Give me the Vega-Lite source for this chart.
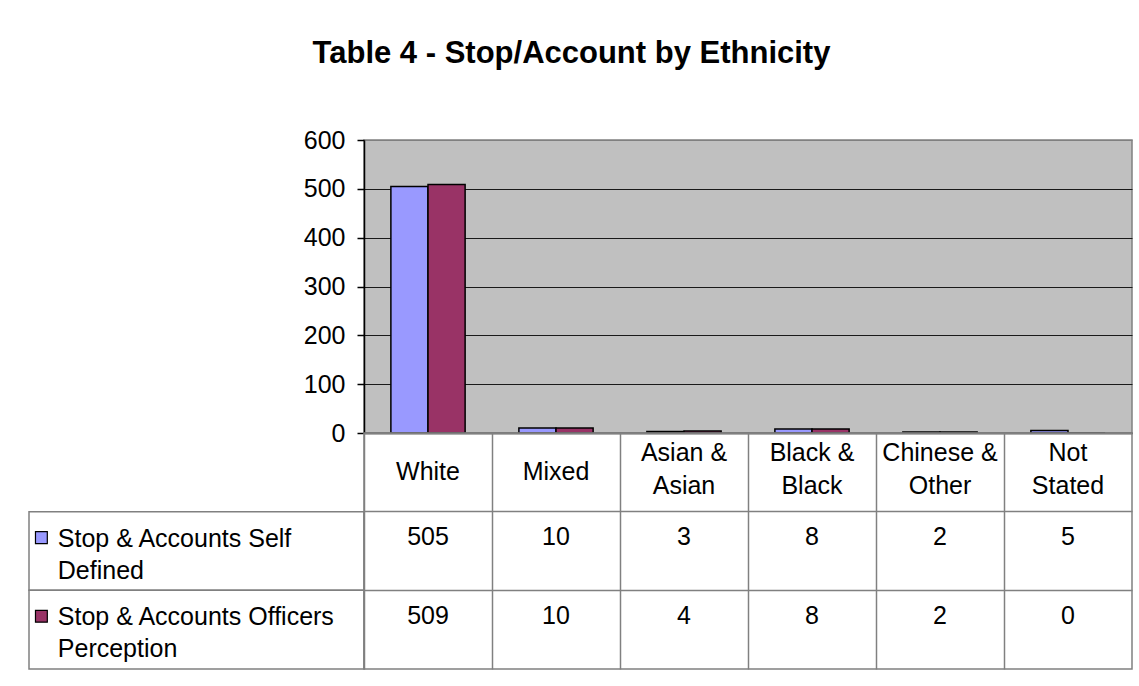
{
  "$schema": "https://vega.github.io/schema/vega-lite/v6.json",
  "padding": {"left": 28, "top": 38, "right": 0, "bottom": 0},
  "background": "#ffffff",
  "title": {
    "text": "Table 4 - Stop/Account by Ethnicity",
    "fontSize": 31,
    "fontWeight": "bold",
    "anchor": "middle",
    "color": "#000000",
    "offset": 57,
    "dx": -9
  },
  "datasets": {
    "main": [
      {"ethnicity": "White", "series": "Stop & Accounts Self Defined", "value": 505},
      {"ethnicity": "White", "series": "Stop & Accounts Officers Perception", "value": 509},
      {"ethnicity": "Mixed", "series": "Stop & Accounts Self Defined", "value": 10},
      {"ethnicity": "Mixed", "series": "Stop & Accounts Officers Perception", "value": 10},
      {"ethnicity": "Asian &\nAsian", "series": "Stop & Accounts Self Defined", "value": 3},
      {"ethnicity": "Asian &\nAsian", "series": "Stop & Accounts Officers Perception", "value": 4},
      {"ethnicity": "Black &\nBlack", "series": "Stop & Accounts Self Defined", "value": 8},
      {"ethnicity": "Black &\nBlack", "series": "Stop & Accounts Officers Perception", "value": 8},
      {"ethnicity": "Chinese &\nOther", "series": "Stop & Accounts Self Defined", "value": 2},
      {"ethnicity": "Chinese &\nOther", "series": "Stop & Accounts Officers Perception", "value": 2},
      {"ethnicity": "Not\nStated", "series": "Stop & Accounts Self Defined", "value": 5},
      {"ethnicity": "Not\nStated", "series": "Stop & Accounts Officers Perception", "value": 0}
    ],
    "cats": [
      {"ethnicity": "White"},
      {"ethnicity": "Mixed"},
      {"ethnicity": "Asian &\nAsian"},
      {"ethnicity": "Black &\nBlack"},
      {"ethnicity": "Chinese &\nOther"},
      {"ethnicity": "Not\nStated"}
    ],
    "legend": [
      {"series": "Stop & Accounts Self Defined", "label": "Stop & Accounts Self\nDefined"},
      {"series": "Stop & Accounts Officers Perception", "label": "Stop & Accounts Officers\nPerception"}
    ]
  },
  "columns": 2,
  "spacing": 0,
  "bounds": "flush",
  "resolve": {"scale": {"x": "independent", "y": "independent", "color": "shared"}},
  "concat": [
    {
      "width": 335,
      "height": 293,
      "view": {"stroke": null},
      "data": {"values": [{}]},
      "mark": {"type": "text"},
      "encoding": {"text": {"value": ""}}
    },
    {
      "width": 768,
      "height": 293,
      "view": {"fill": "#C0C0C0", "stroke": "#808080", "strokeWidth": 1.5},
      "data": {"name": "main"},
      "mark": {"type": "bar", "stroke": "#000000", "strokeWidth": 1.5},
      "encoding": {
        "x": {
          "field": "ethnicity",
          "type": "nominal",
          "sort": null,
          "scale": {
            "domain": ["White", "Mixed", "Asian &\nAsian", "Black &\nBlack", "Chinese &\nOther", "Not\nStated"],
            "paddingInner": 0.42,
            "paddingOuter": 0.21
          },
          "axis": {"labels": false, "ticks": false, "title": null, "grid": false, "domainColor": "#000000", "domainWidth": 1.5}
        },
        "xOffset": {
          "field": "series",
          "type": "nominal",
          "sort": ["Stop & Accounts Self Defined", "Stop & Accounts Officers Perception"]
        },
        "y": {
          "field": "value",
          "type": "quantitative",
          "scale": {"domain": [0, 600], "nice": false},
          "axis": {
            "values": [0, 100, 200, 300, 400, 500, 600],
            "title": null,
            "grid": true,
            "gridColor": {"condition": {"test": "datum.value === 600", "value": "#808080"}, "value": "#1a1a1a"},
            "gridWidth": 1,
            "gridOpacity": 1,
            "domainColor": "#000000",
            "domainWidth": 1.5,
            "tickColor": "#000000",
            "tickSize": 7,
            "tickWidth": 1.5,
            "labelFontSize": 25,
            "labelColor": "#000000",
            "labelPadding": 12
          }
        },
        "color": {
          "field": "series",
          "type": "nominal",
          "scale": {
            "domain": ["Stop & Accounts Self Defined", "Stop & Accounts Officers Perception"],
            "range": ["#9999FF", "#993366"]
          },
          "legend": null
        }
      }
    },
    {
      "width": 335,
      "height": 236,
      "view": {"stroke": null},
      "data": {"name": "legend"},
      "layer": [
        {
          "mark": {"type": "rect", "fill": "#ffffff", "stroke": "#808080", "strokeWidth": 1.5},
          "encoding": {
            "y": {
              "field": "series",
              "type": "nominal",
              "scale": {
                "domain": ["Ethnicity", "Stop & Accounts Self Defined", "Stop & Accounts Officers Perception"],
                "paddingInner": 0,
                "paddingOuter": 0
              },
              "axis": null
            }
          }
        },
        {
          "mark": {"type": "point", "shape": "square", "filled": true, "size": 140, "stroke": "#000000", "strokeWidth": 1.2, "opacity": 1},
          "encoding": {
            "x": {
              "datum": "key",
              "type": "nominal",
              "scale": {"type": "band", "domain": ["key"], "paddingInner": 0, "paddingOuter": 0},
              "bandPosition": 0.037,
              "axis": null
            },
            "y": {"field": "series", "type": "nominal", "bandPosition": 0.33, "axis": null},
            "color": {"field": "series", "type": "nominal", "legend": null}
          }
        },
        {
          "mark": {"type": "text", "align": "left", "baseline": "top", "fontSize": 25, "lineBreak": "\n", "lineHeight": 32, "color": "#000000"},
          "encoding": {
            "x": {"datum": "key", "type": "nominal", "bandPosition": 0.086, "axis": null},
            "y": {"field": "series", "type": "nominal", "bandPosition": 0.19, "axis": null},
            "text": {"field": "label"}
          }
        }
      ]
    },
    {
      "width": 768,
      "height": 236,
      "view": {"stroke": "#808080", "strokeWidth": 1.5},
      "layer": [
        {
          "data": {"name": "cats"},
          "transform": [{"filter": "indexof(datum.ethnicity, '\\n') < 0"}],
          "mark": {"type": "text", "baseline": "middle", "align": "center", "fontSize": 25, "lineBreak": "\n", "lineHeight": 33, "color": "#000000"},
          "encoding": {
            "x": {
              "field": "ethnicity",
              "type": "nominal",
              "sort": null,
              "scale": {
                "type": "band",
                "domain": ["White", "Mixed", "Asian &\nAsian", "Black &\nBlack", "Chinese &\nOther", "Not\nStated"],
                "paddingInner": 0,
                "paddingOuter": 0
              },
              "axis": {"orient": "top", "labels": false, "ticks": false, "domain": false, "title": null, "grid": true, "bandPosition": 0, "gridColor": "#808080", "gridWidth": 1.5, "gridOpacity": 1}
            },
            "y": {
              "datum": "Ethnicity",
              "type": "nominal",
              "bandPosition": 0.49,
              "scale": {
                "type": "band",
                "domain": ["Ethnicity", "Stop & Accounts Self Defined", "Stop & Accounts Officers Perception"],
                "paddingInner": 0,
                "paddingOuter": 0
              },
              "axis": {"labels": false, "ticks": false, "domain": false, "title": null, "grid": true, "bandPosition": 0, "gridColor": "#808080", "gridWidth": 1.5, "gridOpacity": 1}
            },
            "text": {"field": "ethnicity"}
          }
        },
        {
          "data": {"name": "cats"},
          "transform": [{"filter": "indexof(datum.ethnicity, '\\n') >= 0"}],
          "mark": {"type": "text", "baseline": "middle", "align": "center", "fontSize": 25, "lineBreak": "\n", "lineHeight": 33, "color": "#000000"},
          "encoding": {
            "x": {"field": "ethnicity", "type": "nominal", "sort": null},
            "y": {"datum": "Ethnicity", "type": "nominal", "bandPosition": 0.26},
            "text": {"field": "ethnicity"}
          }
        },
        {
          "data": {"name": "main"},
          "mark": {"type": "text", "baseline": "middle", "align": "center", "fontSize": 25, "color": "#000000"},
          "encoding": {
            "x": {"field": "ethnicity", "type": "nominal", "sort": null},
            "y": {"field": "series", "type": "nominal", "bandPosition": 0.32},
            "text": {"field": "value", "type": "quantitative"}
          }
        }
      ]
    }
  ],
  "config": {
    "font": "Liberation Sans",
    "text": {"font": "Liberation Sans"},
    "axis": {"labelFont": "Liberation Sans"},
    "title": {"font": "Liberation Sans"}
  }
}
